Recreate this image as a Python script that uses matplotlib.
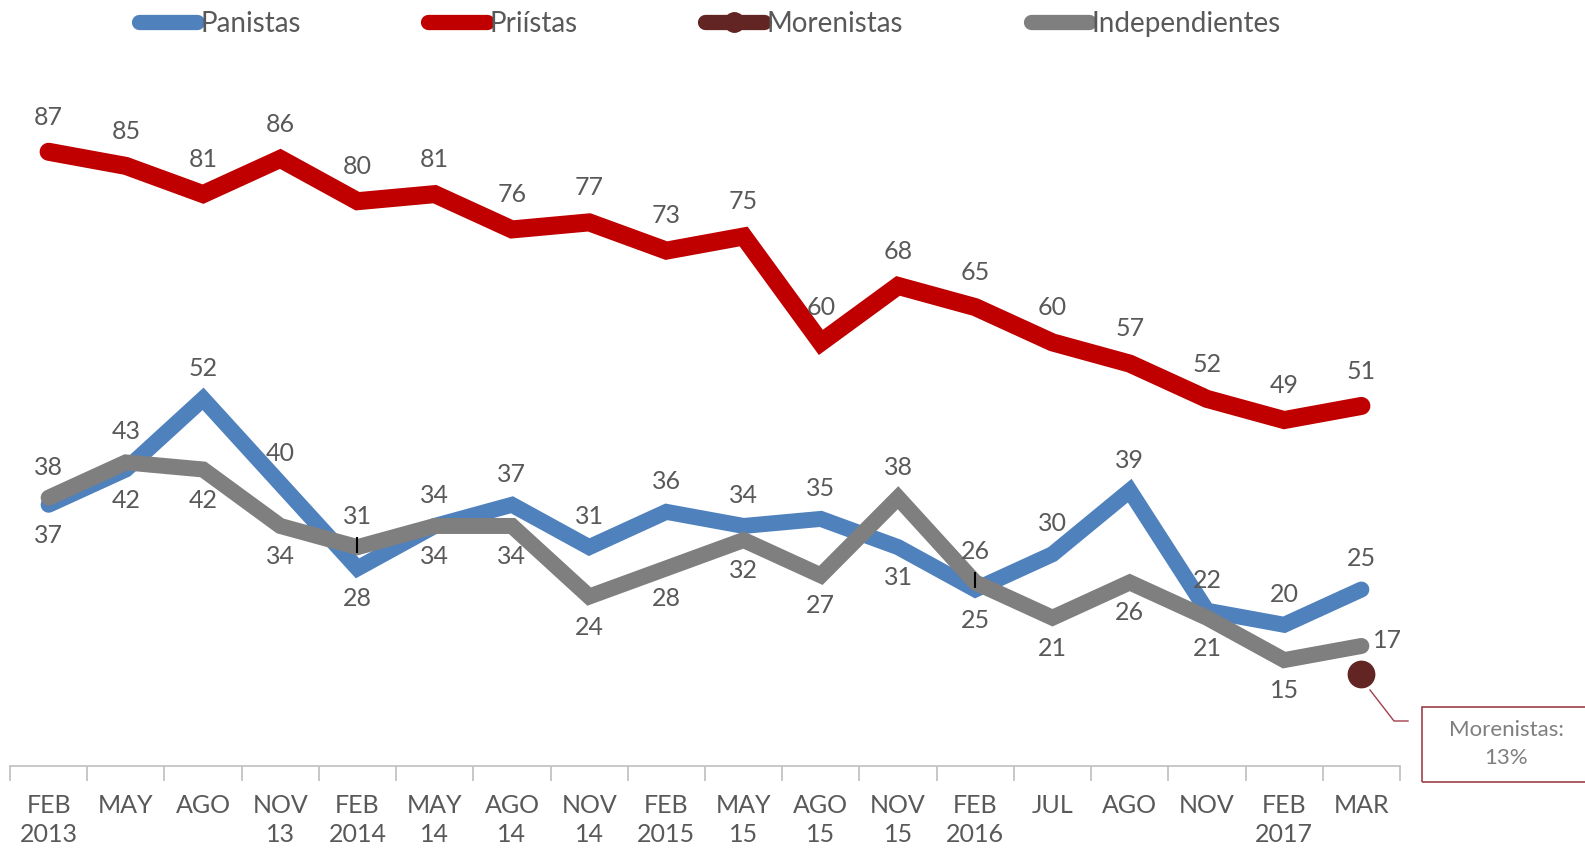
import matplotlib.pyplot as plt
from matplotlib.lines import Line2D
from matplotlib.patches import Rectangle

plt.rcParams['font.family'] = ['Lato', 'DejaVu Sans']

# --- data ---
periods = ["FEB\n2013", "MAY", "AGO", "NOV\n13", "FEB\n2014", "MAY\n14", "AGO\n14", "NOV\n14",
           "FEB\n2015", "MAY\n15", "AGO\n15", "NOV\n15", "FEB\n2016", "JUL", "AGO", "NOV",
           "FEB\n2017", "MAR"]
priistas = [87, 85, 81, 86, 80, 81, 76, 77, 73, 75, 60, 68, 65, 60, 57, 52, 49, 51]
panistas = [37, 42, 52, 40, 28, 34, 37, 31, 36, 34, 35, 31, 25, 30, 39, 22, 20, 25]
independientes = [38, 43, 42, 34, 31, 34, 34, 24, 28, 32, 27, 38, 26, 21, 26, 21, 15, 17]
morenistas_mar = 13

# where each data label sits: 'a' above, 'b' below, 'r' right
pan_pos = list("bbaabbaaaaabbaaaaa")
ind_pos = list("aabbaabbbbbaabbbbr")

c_pan = '#4F81BD'
c_pri = '#C00000'
c_mor = '#632523'
c_ind = '#7F7F7F'
txt = '#595959'

W, H = 1585, 849
fig = plt.figure(figsize=(W / 100, H / 100), dpi=100)
ax = fig.add_axes([10 / W, 83 / H, 1390 / W, 706 / H])
x = list(range(len(periods)))

ax.plot(x, panistas, color=c_pan, lw=11.5, solid_joinstyle='miter', solid_capstyle='round', zorder=2)
ax.plot(x, priistas, color=c_pri, lw=13, solid_joinstyle='miter', solid_capstyle='round', zorder=2)
ax.plot(x, independientes, color=c_ind, lw=11.5, solid_joinstyle='miter', solid_capstyle='round', zorder=3)
ax.plot([x[-1]], [morenistas_mar], 'o', color=c_mor, ms=19, zorder=4)

# small black marks seen on the gray line
for i in (4, 12):
    ax.plot([i], [independientes[i] + 0.3], marker='|', color='black', ms=11, mew=1.5, zorder=5)

fs = 18
for i, v in enumerate(priistas):
    ax.annotate(str(v), (i, v), xytext=(0, 25), textcoords='offset points',
                ha='center', va='center', fontsize=fs, color=txt)

def label_series(vals, pos):
    for i, (v, p) in enumerate(zip(vals, pos)):
        if p == 'a':
            off, ha = (0, 22), 'center'
        elif p == 'b':
            off, ha = (0, -22), 'center'
        else:
            off, ha = (8, 4), 'left'
        ax.annotate(str(v), (i, v), xytext=off, textcoords='offset points',
                    ha=ha, va='center', fontsize=fs, color=txt)

label_series(panistas, pan_pos)
label_series(independientes, ind_pos)

ax.set_xlim(-0.5, len(periods) - 0.5)
ax.set_ylim(0, 100)
ax.set_yticks([])
ax.set_xticks(x)
ax.set_xticklabels(periods, fontsize=fs, color=txt, va='top', linespacing=1.35)
ax.tick_params(axis='x', which='major', length=0, pad=20)
ax.set_xticks([i - 0.5 for i in range(len(periods) + 1)], minor=True)
ax.tick_params(axis='x', which='minor', length=11, color='#BFBFBF', width=1.2, direction='out')
for s in ('top', 'right', 'left'):
    ax.spines[s].set_visible(False)
ax.spines['bottom'].set_color('#BFBFBF')
ax.spines['bottom'].set_linewidth(1.2)

# callout for Morenistas
fig.add_artist(Line2D([1370 / W, 1394 / W, 1408 / W],
                      [1 - 690 / H, 1 - 721 / H, 1 - 721 / H],
                      color='#A0404A', lw=1, transform=fig.transFigure))
fig.add_artist(Rectangle((1422 / W, 1 - 782 / H), 200 / W, 75 / H,
                         fill=False, edgecolor='#A0404A', lw=1.2, transform=fig.transFigure))
fig.text(1506 / W, 1 - 744 / H, "Morenistas:\n13%", ha='center', va='center',
         fontsize=16, color='#7F7F7F', linespacing=1.55)

handles = [
    Line2D([], [], color=c_pan, lw=11, solid_capstyle='round'),
    Line2D([], [], color=c_pri, lw=11, solid_capstyle='round'),
    Line2D([], [], color=c_mor, lw=11, solid_capstyle='round', marker='o', ms=14),
    Line2D([], [], color=c_ind, lw=11, solid_capstyle='round'),
]
fig.legend(handles, ['Panistas', 'Priístas', 'Morenistas', 'Independientes'],
           loc='center', bbox_to_anchor=(710 / W, 1 - 24 / H), ncol=4, frameon=False,
           fontsize=20, labelcolor=txt, handlelength=2.1, handletextpad=0.1,
           columnspacing=4.6, borderpad=0)

fig.savefig('out.png', dpi=100)
